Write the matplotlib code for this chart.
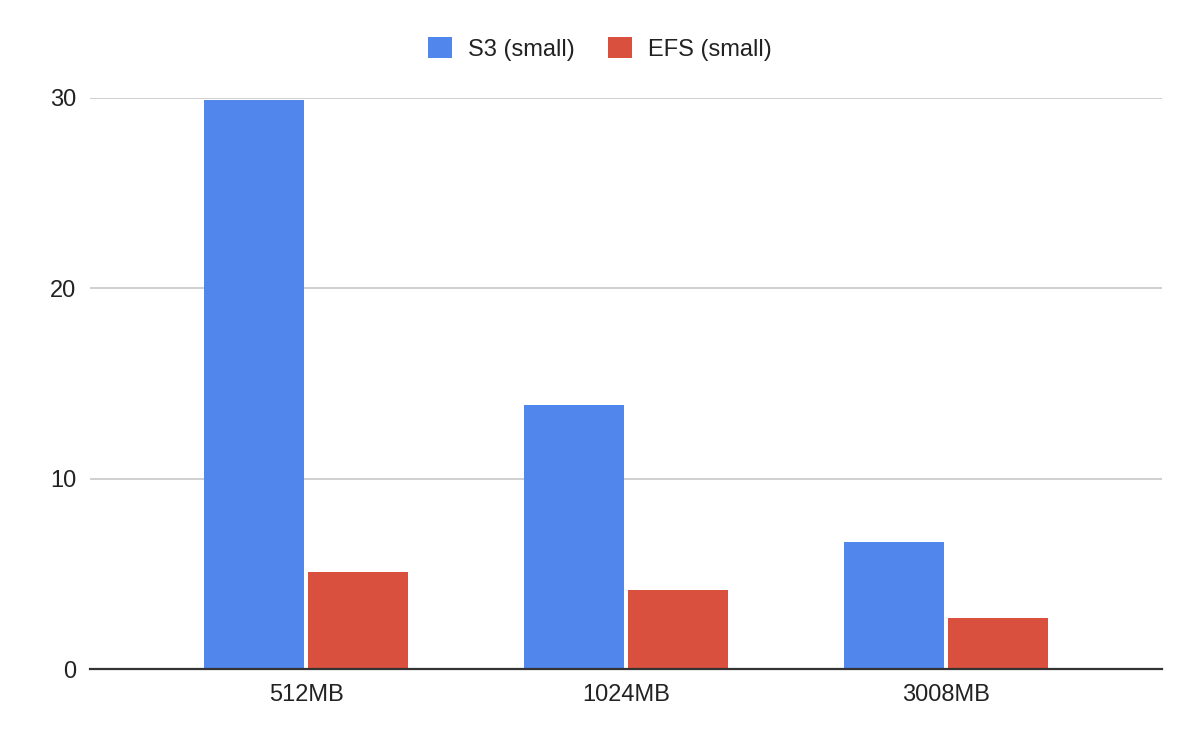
import numpy as np
import matplotlib.pyplot as plt

# data
categories = ['512MB', '1024MB', '3008MB']
s3_small = [29.9, 13.85, 6.67]
efs_small = [5.1, 4.15, 2.68]
yticks = [0, 10, 20, 30]

plt.rcParams['font.family'] = ['Liberation Sans', 'DejaVu Sans']

fig = plt.figure(figsize=(12, 7.4), dpi=100)
ax = fig.add_axes([90 / 1200, 71 / 740, 1072 / 1200, 571 / 740])

x = np.arange(len(categories))
w = 0.3125
gap = 0.0125
ax.bar(x - w / 2 - gap / 2, s3_small, width=w, color='#5186ec', label='S3 (small)', zorder=3)
ax.bar(x + w / 2 + gap / 2, efs_small, width=w, color='#d9503f', label='EFS (small)', zorder=3)

ax.set_xlim(-0.675, 2.675)
ax.set_ylim(0, 30)
ax.set_xticks(x)
ax.set_xticklabels(categories)
ax.set_yticks(yticks)
ax.tick_params(axis='both', length=0, labelsize=17, colors='#222222')
ax.tick_params(axis='x', pad=11)
ax.tick_params(axis='y', pad=10)
ax.grid(axis='y', color='#cccccc', linewidth=1.3, zorder=0)

for s in ['top', 'right', 'left']:
    ax.spines[s].set_visible(False)
ax.spines['bottom'].set_color('#333333')
ax.spines['bottom'].set_linewidth(1.6)
ax.spines['bottom'].set_zorder(4)

fig.legend(loc='center', bbox_to_anchor=(0.5, 1 - 49 / 740), ncol=2, frameon=False,
           fontsize=17, handlelength=1.0, handleheight=1.0, columnspacing=1.4,
           handletextpad=0.7, labelcolor='#222222')

fig.savefig('out.png', dpi=100, facecolor='white')
